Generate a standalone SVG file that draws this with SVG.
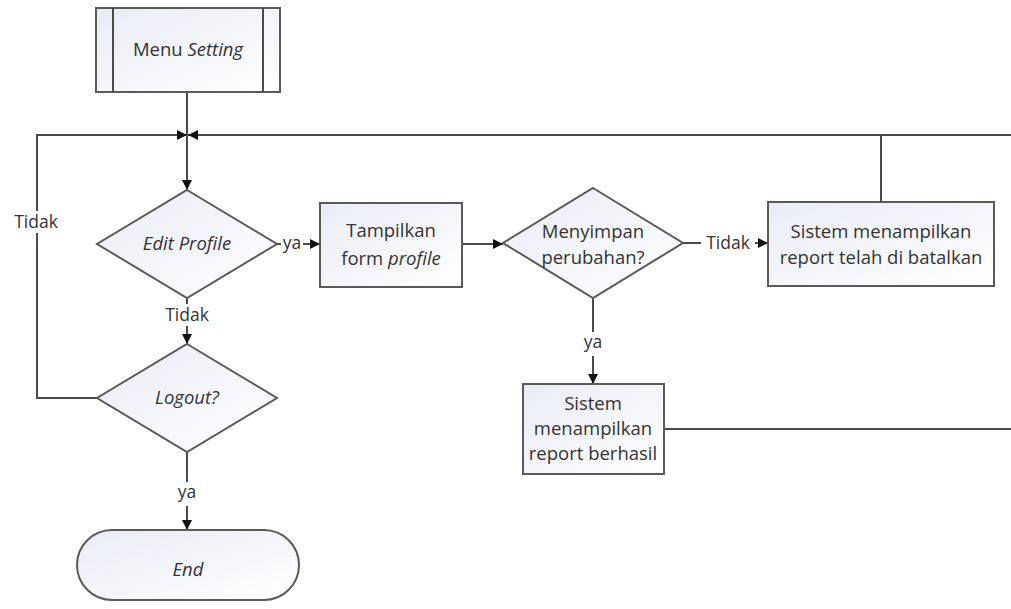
<svg xmlns="http://www.w3.org/2000/svg" width="1011" height="609" viewBox="0 0 1011 609">
<defs>
<linearGradient id="fill" x1="0" y1="0" x2="1" y2="1">
<stop offset="0" stop-color="#eaecf5"/>
<stop offset="1" stop-color="#ffffff"/>
</linearGradient>
<marker id="arr" viewBox="0 0 10 10" refX="10" refY="5" markerWidth="10" markerHeight="10" markerUnits="userSpaceOnUse" orient="auto">
<path d="M0,0 L10,5 L0,10 Z" fill="#111"/>
</marker>
<style>
.shape{fill:url(#fill);stroke:#5a5a5a;stroke-width:2}
.line{fill:none;stroke:#4a4a4a;stroke-width:2}
.t{font-family:"Open Sans","Noto Sans",sans-serif;font-size:18.5px;fill:#333;text-anchor:middle}
.i{font-style:italic}
.lbl{font-family:"Open Sans","Noto Sans",sans-serif;font-size:17.5px;fill:#333;text-anchor:middle}
</style>
</defs>
<rect width="1011" height="609" fill="#fff"/>
<g id="connectors">
<path class="line" d="M187,92 V135"/>
<path class="line" d="M187,135 V190" marker-end="url(#arr)"/>
<path class="line" d="M97,398 H37 V135 H187" marker-end="url(#arr)"/>
<path class="line" d="M1011,135 H188" marker-end="url(#arr)"/>
<path class="line" d="M881,202 V135"/>
<path class="line" d="M187,298 V344" marker-end="url(#arr)"/>
<path class="line" d="M187,452 V530" marker-end="url(#arr)"/>
<path class="line" d="M277,244 H320" marker-end="url(#arr)"/>
<path class="line" d="M462,244 H503" marker-end="url(#arr)"/>
<path class="line" d="M683,243 H768" marker-end="url(#arr)"/>
<path class="line" d="M593,298 V384" marker-end="url(#arr)"/>
<path class="line" d="M664,429 H1011"/>
<rect x="10" y="211" width="54" height="22" fill="#fff"/>
<text class="lbl" x="36" y="228">Tidak</text>
<rect x="162" y="304" width="50" height="22" fill="#fff"/>
<text class="lbl" x="187" y="321">Tidak</text>
<rect x="176" y="482" width="22" height="24" fill="#fff"/>
<text class="lbl" x="187" y="498">ya</text>
<rect x="281" y="233" width="22" height="22" fill="#fff"/>
<text class="lbl" x="292" y="249">ya</text>
<rect x="701" y="232" width="54" height="22" fill="#fff"/>
<text class="lbl" x="728" y="249">Tidak</text>
<rect x="582" y="332" width="22" height="24" fill="#fff"/>
<text class="lbl" x="593" y="348">ya</text>
</g>
<g id="menu-setting">
<rect class="shape" x="96" y="8" width="184" height="84"/>
<path class="line" d="M113,8 V92 M263,8 V92"/>
<text class="t" x="188" y="56">Menu <tspan class="i">Setting</tspan></text>
</g>
<g id="edit-profile">
<path class="shape" d="M187,190 L277,244 L187,298 L97,244 Z"/>
<text class="t i" x="187" y="250">Edit Profile</text>
</g>
<g id="logout">
<path class="shape" d="M187,344 L277,398 L187,452 L97,398 Z"/>
<text class="t i" x="187" y="404">Logout?</text>
</g>
<g id="end">
<rect class="shape" x="77" y="530" width="222" height="70" rx="35" ry="35"/>
<text class="t i" x="188" y="576">End</text>
</g>
<g id="tampilkan-form">
<rect class="shape" x="320" y="203" width="142" height="84"/>
<text class="t" x="391" y="237">Tampilkan</text>
<text class="t" x="391" y="265">form <tspan class="i">profile</tspan></text>
</g>
<g id="menyimpan">
<path class="shape" d="M593,188 L683,243 L593,298 L503,243 Z"/>
<text class="t" x="593" y="238">Menyimpan</text>
<text class="t" x="593" y="264">perubahan?</text>
</g>
<g id="report-batal">
<rect class="shape" x="768" y="202" width="226" height="84"/>
<text class="t" x="881" y="238">Sistem menampilkan</text>
<text class="t" x="881" y="264">report telah di batalkan</text>
</g>
<g id="report-berhasil">
<rect class="shape" x="523" y="384" width="141" height="90"/>
<text class="t" x="593" y="410">Sistem</text>
<text class="t" x="593" y="435">menampilkan</text>
<text class="t" x="593" y="460">report berhasil</text>
</g>
</svg>
